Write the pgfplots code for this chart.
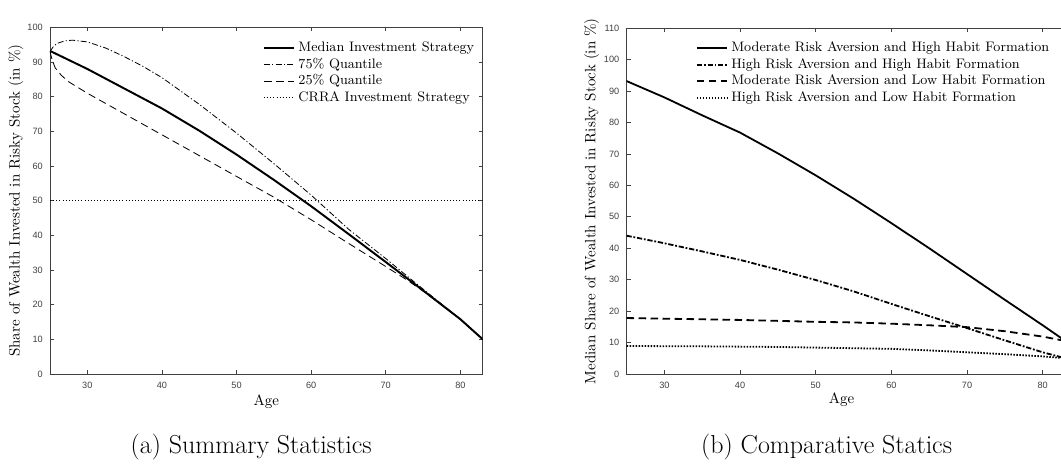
\documentclass[border=0pt]{standalone}
\usepackage{fontspec}
\newfontfamily\hel{Liberation Sans}
\usepackage{pgfplots}
\pgfplotsset{compat=1.18}
\pgfplotsset{
 mystyle/.style={
  scale only axis,
  axis line style={black!75, line width=0.5pt},
  every tick/.style={black!75, line width=0.5pt},
  tick align=inside,
  major tick length=2.7pt,
  xmin=25, xmax=83,
  xtick={30,40,...,80},
  ticklabel style={font=\hel\fontsize{6.1}{7}\selectfont, text=black!75},
  yticklabel style={xshift=-1.3pt},
  xticklabel style={yshift=-2pt},
  /pgf/number format/assume math mode=true,
  label style={font=\fontsize{10.9}{12}\selectfont},
  every axis x label/.style={at={(axis description cs:0.5,-0.08)}, anchor=center},
  legend style={draw=none, fill=none, inner sep=0pt, font=\fontsize{9.17}{11}\selectfont,
    nodes={inner sep=0.5pt, text height=6.5pt, text depth=2pt}, row sep=1.5pt, anchor=north west,
    /tikz/every odd column/.append style={column sep=1.6pt}},
  legend cell align=left,
  legend image code/.code={\draw[##1] (0pt,0pt) -- (20.2pt,0pt);},
 }
}
\begin{document}
\begin{tikzpicture}
\useasboundingbox (0,0) rectangle (707.33pt,309.33pt);
\clip (0,0) rectangle (707.33pt,309.33pt);
\begin{axis}[mystyle, at={(33.33pt,60pt)}, anchor=south west,
  width=288.5pt, height=231.1pt,
  ymin=0, ymax=100, ytick={0,10,...,100},
  every axis y label/.style={at={(axis description cs:-0.0786,0.5)}, rotate=90, anchor=center},
  xlabel={Age}, ylabel={Share of Wealth Invested in Risky Stock (in \%)},
  legend style={at={(axis description cs:0.4916,0.961)}}]
\addplot[black, line width=1.3pt] coordinates {
(25,93.2) (30,88.0) (35,82.3) (40,76.6) (45,70.2) (50,63.3) (55,56.0) (60,48.4)
(65,40.4) (70,32.3) (75,24.1) (80,15.8) (83,10.0)};
\addlegendentry{Median Investment Strategy}
\addplot[black, line width=0.55pt, dash pattern=on 4pt off 1.5pt on 0.8pt off 1.5pt] coordinates {
(25,93.0) (25.5,94.6) (26,95.4) (27,96.1) (28,96.3) (30,95.8) (32.5,94.0) (35,91.5)
(37.5,88.7) (40,85.5) (45,77.8) (50,69.5) (55,60.7) (60,51.6) (65,41.8) (70,33.3)
(73,28.0) (75,24.5) (77,21.0) (80,15.8) (83,10.0)};
\addlegendentry{75\% Quantile}
\addplot[black, line width=0.55pt, dash pattern=on 5pt off 3pt] coordinates {
(25,93.0) (25.3,90.5) (25.7,88.3) (26.5,86.2) (27.5,84.3) (30,81.0) (35,75.0) (40,69.0)
(45,63.0) (50,57.0) (55,51.0) (60,44.5) (65,37.7) (70,31.0) (73,26.9) (75,23.9)
(77,20.7) (80,15.8) (83,10.0)};
\addlegendentry{25\% Quantile}
\addplot[black, line width=0.6pt, dash pattern=on 0.6pt off 1.5pt] coordinates {
(25,50) (83,50)};
\addlegendentry{CRRA Investment Strategy}
\end{axis}
\begin{axis}[mystyle, at={(417.67pt,60pt)}, anchor=south west,
  width=292.6pt, height=230.5pt,
  ymin=0, ymax=110, ytick={0,10,...,110},
  every axis y label/.style={at={(axis description cs:-0.0793,0.5)}, rotate=90, anchor=center},
  every axis x label/.style={at={(axis description cs:0.49,-0.075)}, anchor=center},
  xlabel={Age}, ylabel={Median Share of Wealth Invested in Risky Stock (in \%)},
  legend style={at={(axis description cs:0.1577,0.9638)}}]
\addplot[black, line width=1.2pt] coordinates {
(25,93.2) (30,88.0) (35,82.3) (40,76.8) (45,70.2) (50,63.2) (55,55.8) (60,48.0)
(65,40.0) (70,31.8) (75,23.6) (80,15.5) (83,10.5)};
\addlegendentry{Moderate Risk Aversion and High Habit Formation}
\addplot[black, line width=1.2pt, dash pattern=on 3.5pt off 1.2pt on 1.2pt off 1.2pt] coordinates {
(25,44.0) (30,41.6) (35,39.0) (40,36.3) (45,33.2) (50,29.9) (55,26.3) (60,22.3)
(65,18.4) (70,14.6) (75,10.7) (80,6.9) (83,5.0)};
\addlegendentry{High Risk Aversion and High Habit Formation}
\addplot[black, line width=1.2pt, dash pattern=on 5pt off 3pt] coordinates {
(25,17.8) (30,17.6) (35,17.4) (40,17.2) (45,16.9) (50,16.6) (55,16.4) (60,16.0)
(65,15.5) (70,14.9) (75,13.6) (80,11.9) (83,10.5)};
\addlegendentry{Moderate Risk Aversion and Low Habit Formation}
\addplot[black, line width=1.2pt, dash pattern=on 1pt off 1pt] coordinates {
(25,8.9) (30,8.85) (35,8.8) (40,8.7) (45,8.6) (50,8.4) (55,8.2) (60,8.0)
(65,7.5) (70,6.9) (75,6.3) (80,5.6) (83,5.0)};
\addlegendentry{High Risk Aversion and Low Habit Formation}
\end{axis}
\node[font=\fontsize{17.3}{20}\selectfont] at (167.5pt,11.5pt) {(a) Summary Statistics};
\node[font=\fontsize{17.3}{20}\selectfont] at (551.1pt,11.5pt) {(b) Comparative Statics};
\end{tikzpicture}
\end{document}
